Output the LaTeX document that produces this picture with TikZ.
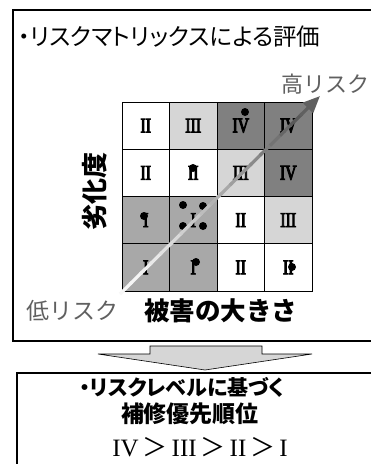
\documentclass[tikz,border=0pt]{standalone}
\usepackage{fontspec}
\setmainfont{Liberation Serif}
\newfontfamily\jp[RawFeature=+palt]{Noto Sans CJK JP}
\newfontfamily\jpf{Noto Sans CJK JP}
\newfontfamily\numf[FakeStretch=0.75,FakeBold=4.5]{Liberation Serif}
\usetikzlibrary{arrows.meta,calc}
\definecolor{lightc}{HTML}{D6D6D6}
\definecolor{midc}{HTML}{A8A8A8}
\definecolor{darkc}{HTML}{808080}
\definecolor{riskgray}{HTML}{606060}
\begin{document}
\begin{tikzpicture}[x=1pt,y=-1pt,
  frame/.style={draw=black,line width=1.6pt},
  cell/.style={draw=black,line width=0.6pt,minimum width=47.5pt,minimum height=47.25pt,inner sep=0pt,
    font=\numf\fontsize{21}{21}\selectfont},
  dotmark/.style={circle,fill=black,inner sep=0pt,minimum size=8pt},
  jptext/.style={inner sep=0pt,font=\jp\fontsize{#1}{#1}\selectfont},
  jpbold/.style={inner sep=0pt,font=\jp\bfseries\fontsize{#1}{#1}\selectfont},
  jpboldf/.style={inner sep=0pt,font=\jpf\bfseries\fontsize{#1}{#1}\selectfont},
  risktext/.style={inner sep=0pt,text=riskgray,font=\jpf\fontsize{#1}{#1}\selectfont},
  blockarrow/.style={draw=black,line width=0.6pt,fill=lightc}
]
\useasboundingbox (0,0) rectangle (371,464);
\clip (0,0) rectangle (371,464);
\fill[white] (0,0) rectangle (371,464);

% top box
\draw[frame] (13,10) rectangle (390,341);
\node[jptext=23.5,anchor=west] (title) at (18,37) {・リスクマトリックスによる評価};

% matrix
\def\cw{47.5}\def\ch{47.25}
\foreach \lab/\col/\r/\c in {
  II/white/1/1, III/lightc/1/2, IV/darkc/1/3, IV/darkc/1/4,
  II/white/2/1, II/white/2/2, III/lightc/2/3, IV/darkc/2/4,
  I/midc/3/1, I/midc/3/2, II/white/3/3, III/lightc/3/4,
  I/midc/4/1, I/midc/4/2, II/white/4/3, II/white/4/4}{
  \node[cell,fill=\col] (c\r\c) at ({122+(\c-0.5)*\cw},{102+(\r-0.5)*\ch}) {\lab};
}

% data points
\node[dotmark] (p1) at (245,112) {};
\node[dotmark] (p2) at (193,168) {};
\node[dotmark] (p3) at (144,216) {};
\node[dotmark] (p4) at (183,205) {};
\node[dotmark] (p5) at (203,206) {};
\node[dotmark] (p6) at (183,226) {};
\node[dotmark] (p7) at (203,226) {};
\node[dotmark] (p8) at (196,262) {};
\node[dotmark] (p9) at (292,267) {};

% diagonal risk arrow
\coordinate (lo) at (120,294);
\coordinate (hi) at (320,96);
\foreach \i in {0,...,17}{
  \pgfmathsetmacro{\a}{\i/20}
  \pgfmathsetmacro{\b}{(\i+1)/20+0.01}
  \pgfmathsetmacro{\pct}{int(3+62*(\i/17)^1.3)}
  \draw[line width=3.2pt,color=black!\pct] ($(lo)!\a!(hi)$) -- ($(lo)!\b!(hi)$);
}
\draw[line width=3.2pt,color=riskgray,-{Triangle[length=17pt,width=14pt]}] ($(lo)!0.9!(hi)$) -- (hi);

\node[risktext=22,anchor=west] (high) at (281,84) {高リスク};
\node[risktext=23,anchor=west] (low) at (26,311) {低リスク};
\node[jpboldf=25.5,anchor=west] (xlab) at (144,311) {被害の大きさ};
\node[jpboldf=26,rotate=90] (ylab) at (95,191) {劣化度};

% block arrow
\draw[blockarrow] (150,346) -- (262,346) -- (262,354) -- (312,354) -- (205,370) -- (98,354) -- (150,354) -- cycle;

% bottom box
\draw[frame] (17,373) rectangle (390,480);
\node[jpbold=21] (l1) at (182,387) {・リスクレベルに基づく};
\node[jpbold=23] (l2) at (190,414) {補修優先順位};
\node[inner sep=0pt,font=\fontsize{25}{25}\selectfont] (l3) at (200,447) {IV\hspace{4pt}{\jpf ＞}\hspace{4pt}III\hspace{4pt}{\jpf ＞}\hspace{4pt}II\hspace{4pt}{\jpf ＞}\hspace{4pt}I};
\end{tikzpicture}
\end{document}
